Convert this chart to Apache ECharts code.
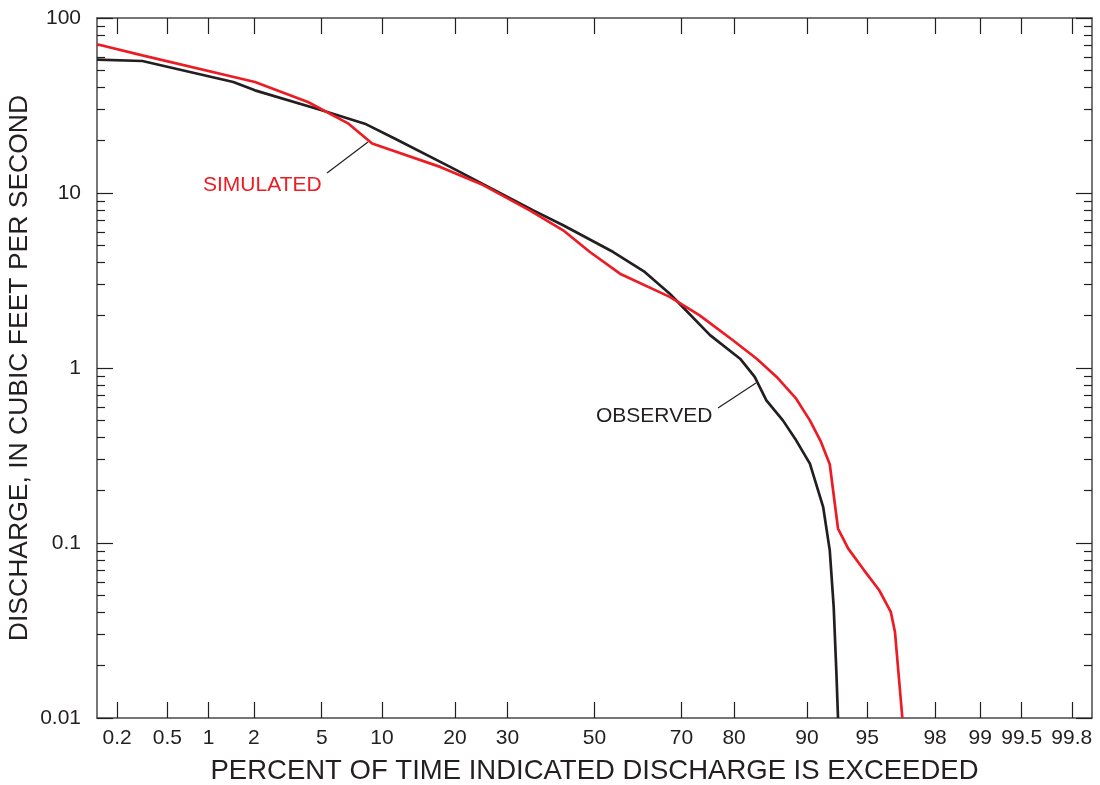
<!DOCTYPE html>
<html>
<head>
<meta charset="utf-8">
<script src="https://cdn.jsdelivr.net/npm/echarts@6/dist/echarts.min.js"></script>
<style>
  html, body { margin: 0; padding: 0; background: #fff; }
  #chart { width: 1100px; height: 785px; }
</style>
</head>
<body>
<div id="chart"></div>
<script>
// probability axis: percent of time exceeded
var pctTicks = [0.2, 0.5, 1, 2, 5, 10, 20, 30, 50, 70, 80, 90, 95, 98, 99, 99.5, 99.8];
var pctLabels = ['0.2', '0.5', '1', '2', '5', '10', '20', '30', '50', '70', '80', '90', '95', '98', '99', '99.5', '99.8'];
// discharge axis (log)
var qTicks = [0.01, 0.1, 1, 10, 100];
var qLabels = ['0.01', '0.1', '1', '10', '100'];

// observed flow duration curve
var obsPct = [0.135, 0.32, 1.47, 2.03, 5.0, 8.3, 11.4, 19.2, 35.6, 42.5, 54.5, 61.9, 67.5, 69.6, 75.7, 81.0, 83.3, 85.0, 87.2, 88.8, 90.3, 91.6, 92.2, 92.54, 92.77, 92.9];
var obsQ = [57.8, 56.8, 43.1, 38.6, 29.7, 24.9, 20.5, 14.1, 7.96, 6.54, 4.60, 3.54, 2.66, 2.33, 1.54, 1.13, 0.889, 0.653, 0.502, 0.386, 0.284, 0.161, 0.0908, 0.0431, 0.0179, 0.01];

// simulated flow duration curve
var simPct = [0.135, 0.32, 2.03, 4.2, 6.9, 9.0, 17.6, 25.1, 34.8, 42.5, 48.9, 56.1, 67.5, 73.7, 79.8, 83.6, 86.4, 88.8, 90.3, 91.4, 92.2, 92.9, 93.7, 94.8, 95.7, 96.3, 96.5, 96.83];
var simQ = [70.8, 61.2, 43.1, 33.1, 24.9, 19.2, 14.1, 11.1, 7.96, 6.12, 4.60, 3.46, 2.55, 2.00, 1.44, 1.13, 0.889, 0.668, 0.502, 0.378, 0.282, 0.121, 0.0929, 0.0698, 0.0537, 0.0404, 0.031, 0.01];

var FONT = "'Liberation Sans', Arial, Helvetica, sans-serif";
var INK = '#231f20';
var RED = '#ed1c24';

// inverse normal cdf (Acklam) -> probability paper
function probit(p) {
  var a = [-3.969683028665376e+01, 2.209460984245205e+02, -2.759285104469687e+02, 1.383577518672690e+02, -3.066479806614716e+01, 2.506628277459239e+00];
  var b = [-5.447609879822406e+01, 1.615858368580409e+02, -1.556989798598866e+02, 6.680131188771972e+01, -1.328068155288572e+01];
  var c = [-7.784894002430293e-03, -3.223964580411365e-01, -2.400758277161838e+00, -2.549732539343734e+00, 4.374664141464968e+00, 2.938163982698783e+00];
  var d = [7.784695709041462e-03, 3.224671290700398e-01, 2.445134137142996e+00, 3.754408661907416e+00];
  var pl = 0.02425, q, r;
  if (p < pl) {
    q = Math.sqrt(-2 * Math.log(p));
    return (((((c[0]*q+c[1])*q+c[2])*q+c[3])*q+c[4])*q+c[5]) / ((((d[0]*q+d[1])*q+d[2])*q+d[3])*q+1);
  }
  if (p > 1 - pl) {
    q = Math.sqrt(-2 * Math.log(1 - p));
    return -(((((c[0]*q+c[1])*q+c[2])*q+c[3])*q+c[4])*q+c[5]) / ((((d[0]*q+d[1])*q+d[2])*q+d[3])*q+1);
  }
  q = p - 0.5; r = q * q;
  return (((((a[0]*r+a[1])*r+a[2])*r+a[3])*r+a[4])*r+a[5])*q / (((((b[0]*r+b[1])*r+b[2])*r+b[3])*r+b[4])*r+1);
}
function z(pct) { return probit(pct / 100); }

var zTicks = pctTicks.map(z);
function pctLabel(v) {
  var best = 0;
  for (var i = 1; i < zTicks.length; i++) {
    if (Math.abs(zTicks[i] - v) < Math.abs(zTicks[best] - v)) best = i;
  }
  return pctLabels[best];
}

// minor ticks 2..9 in each decade, in log10 space
var minorLog = [];
for (var i = 0; i < qTicks.length - 1; i++) {
  for (var k = 2; k <= 9; k++) minorLog.push(Math.log10(k * qTicks[i]));
}
var majorLog = qTicks.map(function (v) { return Math.log10(v); });

function pairs(px, qy) {
  return px.map(function (p, i) { return [z(p), qy[i]]; });
}

var axisLine = { show: true, onZero: false, lineStyle: { color: '#4a4a4a', width: 1.5 } };
var noLine = { show: false, onZero: false };
var tickStyle = { color: INK, width: 1.2 };

var option = {
  backgroundColor: '#fff',
  animation: false,
  grid: { left: 97, right: 8, top: 18, bottom: 67, containLabel: false, outerBoundsMode: 'none' },
  xAxis: [
    {
      type: 'value', position: 'bottom', min: -3, max: 3,
      axisLine: axisLine,
      axisTick: { inside: true, length: 16, lineStyle: tickStyle, customValues: zTicks },
      axisLabel: { customValues: zTicks, formatter: pctLabel, color: INK, fontSize: 21, fontFamily: FONT, margin: 10 },
      splitLine: { show: false },
      name: 'PERCENT OF TIME INDICATED DISCHARGE IS EXCEEDED',
      nameLocation: 'middle', nameGap: 39,
      nameTextStyle: { color: INK, fontSize: 27.5, fontFamily: FONT }
    },
    {
      type: 'value', position: 'top', min: -3, max: 3,
      axisLine: axisLine,
      axisTick: { inside: true, length: 16, lineStyle: tickStyle, customValues: zTicks },
      axisLabel: { show: false },
      splitLine: { show: false }
    }
  ],
  yAxis: [
    {
      type: 'log', logBase: 10, position: 'left', min: 0.01, max: 100,
      axisLine: axisLine,
      axisTick: { show: false },
      axisLabel: { show: false },
      splitLine: { show: false },
      name: 'DISCHARGE, IN CUBIC FEET PER SECOND',
      nameLocation: 'middle', nameRotate: 90, nameGap: 64,
      nameTextStyle: { color: INK, fontSize: 26.5, fontFamily: FONT }
    },
    {
      type: 'value', position: 'left', min: -2, max: 2,
      axisLine: noLine,
      axisTick: { inside: true, length: 16, lineStyle: tickStyle, customValues: majorLog },
      axisLabel: {
        customValues: majorLog, color: INK, fontSize: 21, fontFamily: FONT, margin: 16,
        formatter: function (v) { return qLabels[Math.round(v) + 2]; }
      },
      splitLine: { show: false }
    },
    {
      type: 'value', position: 'left', min: -2, max: 2,
      axisLine: noLine,
      axisTick: { inside: true, length: 8, lineStyle: tickStyle, customValues: minorLog },
      axisLabel: { show: false },
      splitLine: { show: false }
    },
    {
      type: 'value', position: 'right', min: -2, max: 2,
      axisLine: axisLine,
      axisTick: { inside: true, length: 16, lineStyle: tickStyle, customValues: majorLog },
      axisLabel: { show: false },
      splitLine: { show: false }
    },
    {
      type: 'value', position: 'right', min: -2, max: 2,
      axisLine: noLine,
      axisTick: { inside: true, length: 8, lineStyle: tickStyle, customValues: minorLog },
      axisLabel: { show: false },
      splitLine: { show: false }
    }
  ],
  series: [
    {
      name: 'OBSERVED', type: 'line', xAxisIndex: 0, yAxisIndex: 0,
      data: pairs(obsPct, obsQ), showSymbol: false, symbol: 'none',
      lineStyle: { color: INK, width: 2.7 }
    },
    {
      name: 'SIMULATED', type: 'line', xAxisIndex: 0, yAxisIndex: 0,
      data: pairs(simPct, simQ), showSymbol: false, symbol: 'none',
      lineStyle: { color: RED, width: 2.7 }
    }
  ],
  graphic: [
    { type: 'text', left: 203, top: 175, style: { text: 'SIMULATED', fill: RED, font: '21px ' + FONT } },
    { type: 'line', shape: { x1: 327, y1: 173, x2: 368, y2: 142 }, style: { stroke: INK, lineWidth: 1.2 } },
    { type: 'text', left: 596, top: 406, style: { text: 'OBSERVED', fill: INK, font: '21px ' + FONT } },
    { type: 'line', shape: { x1: 718, y1: 408, x2: 756, y2: 383 }, style: { stroke: INK, lineWidth: 1.2 } }
  ]
};

var chart = echarts.init(document.getElementById('chart'));
chart.setOption(option);
</script>
</body>
</html>
